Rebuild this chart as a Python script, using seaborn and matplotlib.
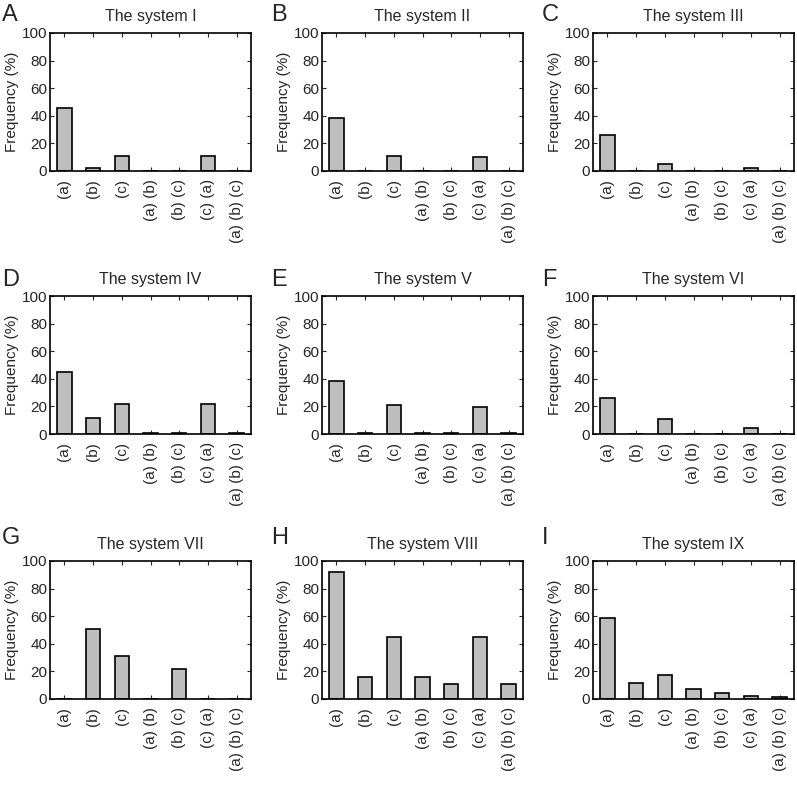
import numpy as np
import pandas as pd
import matplotlib
matplotlib.use("Agg")
import matplotlib.pyplot as plt
import seaborn as sns

# categories (same for every panel)
categories = ["(a)", "(b)", "(c)", "(a) (b)", "(b) (c)", "(c) (a)", "(a) (b) (c)"]

# frequency (%) per system
sys_I = [45.3, 2.4, 11.2, 0, 0, 11.2, 0]
sys_II = [38.5, 0, 10.6, 0, 0, 10.0, 0]
sys_III = [26.2, 0, 5.4, 0, 0, 2.5, 0]
sys_IV = [45.2, 11.4, 22.0, 0.5, 0.5, 22.0, 0.5]
sys_V = [38.2, 0.5, 21.0, 0.5, 0.5, 19.8, 0.5]
sys_VI = [26.1, 0, 11.0, 0, 0, 4.4, 0]
sys_VII = [0, 50.5, 30.8, 0, 22.0, 0, 0]
sys_VIII = [92.0, 15.7, 45.2, 15.7, 10.6, 45.2, 10.6]
sys_IX = [58.8, 11.9, 17.7, 7.1, 4.4, 1.9, 1.2]

titles = ["The system I", "The system II", "The system III",
          "The system IV", "The system V", "The system VI",
          "The system VII", "The system VIII", "The system IX"]
letters = ["A", "B", "C", "D", "E", "F", "G", "H", "I"]
series = [sys_I, sys_II, sys_III, sys_IV, sys_V, sys_VI, sys_VII, sys_VIII, sys_IX]

sns.set_style("ticks")
plt.rcParams['font.family'] = ['Liberation Sans', 'DejaVu Sans']

W, H = 797, 786
fig = plt.figure(figsize=(W / 100, H / 100), dpi=100)

col_left = [50, 322, 593]
row_top = [33, 296, 561]
ax_w, ax_h = 201, 138
letter_x = [2, 271, 542]
letter_base = [21, 286, 544]

for i, (vals, title, letter) in enumerate(zip(series, titles, letters)):
    r, c = divmod(i, 3)
    left = col_left[c] / W
    bottom = (H - row_top[r] - ax_h) / H
    ax = fig.add_axes([left, bottom, ax_w / W, ax_h / H])

    df = pd.DataFrame({"cat": categories, "freq": vals})
    sns.barplot(data=df, x="cat", y="freq", order=categories, color="#bebebe",
                saturation=1, edgecolor="black", linewidth=1.2, width=0.5, ax=ax)

    ax.set_ylim(0, 100)
    ax.set_xlim(-0.5, 6.5)
    ax.set_yticks(np.arange(0, 101, 20))
    ax.set_xlabel("")
    ax.set_ylabel("Frequency (%)", fontsize=11, labelpad=2)
    ax.set_title(title, fontsize=11.5, pad=8.5)
    ax.set_xticks(range(len(categories)))
    ax.set_xticklabels(categories, rotation=90, fontsize=11)
    ax.tick_params(axis="y", labelsize=11, pad=2)
    ax.tick_params(direction="in", top=True, right=True, length=3, width=0.8)
    ax.tick_params(axis="x", pad=6)
    for sp in ax.spines.values():
        sp.set_visible(True)
        sp.set_color("black")
        sp.set_linewidth(1.2)

    fig.text(letter_x[c] / W, 1 - letter_base[r] / H, letter, fontsize=17,
             va="baseline", ha="left")

plt.savefig("out.png", dpi=100, facecolor="white")
